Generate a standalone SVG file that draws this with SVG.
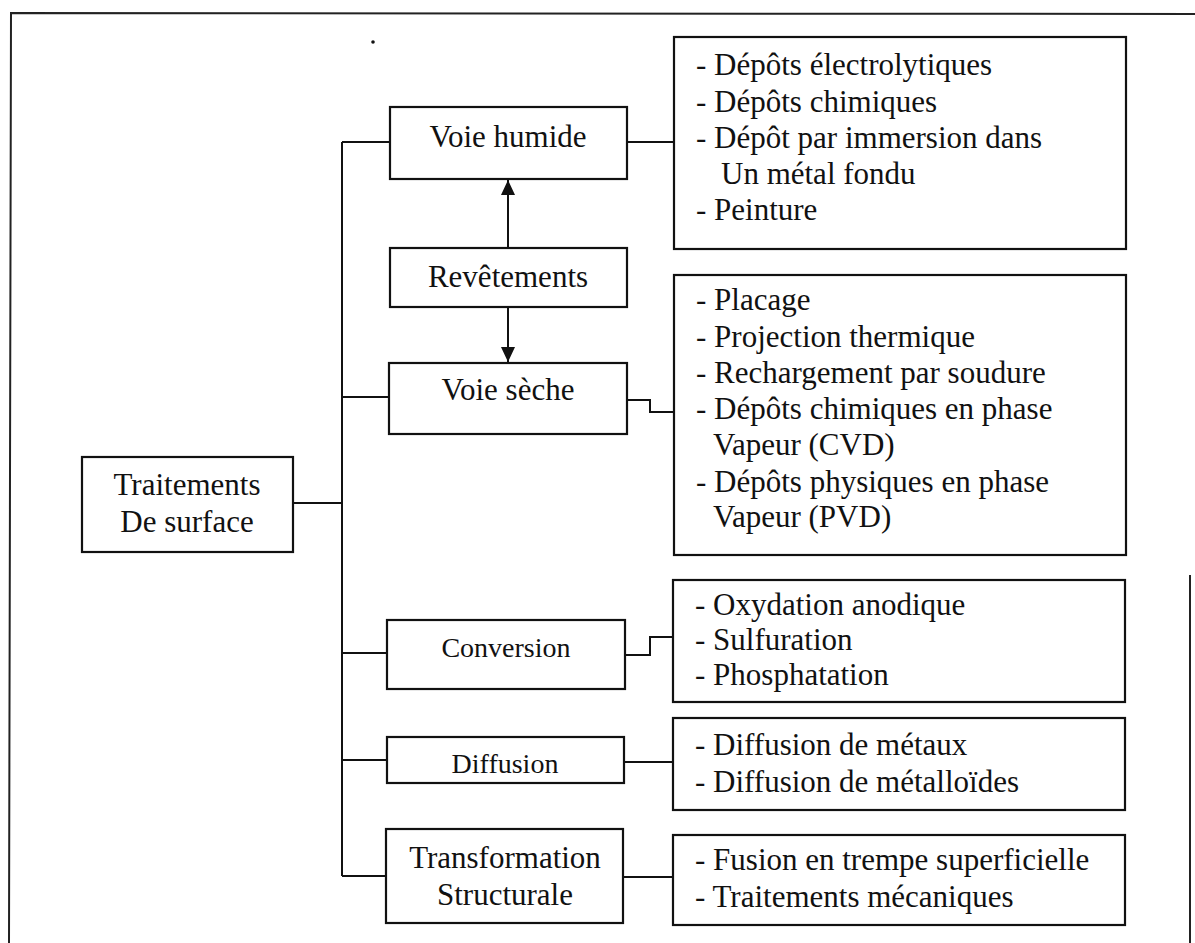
<svg xmlns="http://www.w3.org/2000/svg" width="1195" height="943" viewBox="0 0 1195 943">
<style>
.box{fill:#fff;stroke:#111;stroke-width:2.2}
.ln{fill:none;stroke:#111;stroke-width:2}
.frame{fill:none;stroke:#222;stroke-width:2}
text{font-family:"Liberation Serif","Times New Roman",serif;font-size:31px;fill:#111}
.c{text-anchor:middle}
.s{font-size:28px}
</style>
<defs>
<marker id="ah" markerUnits="userSpaceOnUse" markerWidth="16" markerHeight="16" refX="15" refY="7" orient="auto">
<path d="M0,0 L15,7 L0,14 Z" fill="#111"/>
</marker>
</defs>
<rect width="1195" height="943" fill="#fff"/>
<g id="frame">
<path class="frame" d="M1195,14 L11,13 L9,943"/>
<path class="frame" d="M1190,575 L1190,943"/>
<circle cx="373" cy="42" r="1.8" fill="#111"/>
</g>
<g id="connectors">
<path class="ln" d="M342,142 L342,876"/>
<path class="ln" d="M342,142 L390,142"/>
<path class="ln" d="M342,397 L389,397"/>
<path class="ln" d="M293,503 L342,503"/>
<path class="ln" d="M342,653 L387,653"/>
<path class="ln" d="M342,760 L387,760"/>
<path class="ln" d="M342,876 L386,876"/>
<path class="ln" d="M627,142 L674,142"/>
<path class="ln" d="M627,400 L650,400 L650,412 L674,412"/>
<path class="ln" d="M625,655 L650,655 L650,637 L673,637"/>
<path class="ln" d="M624,762 L673,762"/>
<path class="ln" d="M623,877 L673,877"/>
<path class="ln" d="M508,248 L508,180" marker-end="url(#ah)"/>
<path class="ln" d="M508,307 L508,362" marker-end="url(#ah)"/>
</g>
<g id="traitements">
<rect class="box" x="82" y="457" width="211" height="95"/>
<text class="c" x="187" y="495">Traitements</text>
<text class="c" x="187" y="532">De surface</text>
</g>
<g id="voie-humide">
<rect class="box" x="390" y="107" width="237" height="72"/>
<text class="c" x="508" y="147">Voie humide</text>
</g>
<g id="revetements">
<rect class="box" x="390" y="248" width="237" height="59"/>
<text class="c" x="508" y="287">Revêtements</text>
</g>
<g id="voie-seche">
<rect class="box" x="389" y="363" width="238" height="71"/>
<text class="c" x="508" y="400">Voie sèche</text>
</g>
<g id="conversion">
<rect class="box" x="387" y="620" width="238" height="69"/>
<text class="c s" x="506" y="657">Conversion</text>
</g>
<g id="diffusion">
<rect class="box" x="387" y="737" width="237" height="46"/>
<text class="c s" x="505" y="773">Diffusion</text>
</g>
<g id="transformation">
<rect class="box" x="386" y="829" width="237" height="94"/>
<text class="c" x="505" y="868">Transformation</text>
<text class="c" x="505" y="905">Structurale</text>
</g>
<g id="list-humide">
<rect class="box" x="674" y="37" width="452" height="212"/>
<text x="696" y="75">- Dépôts électrolytiques</text>
<text x="696" y="112">- Dépôts chimiques</text>
<text x="696" y="148">- Dépôt par immersion dans</text>
<text x="721" y="184">Un métal fondu</text>
<text x="696" y="220">- Peinture</text>
</g>
<g id="list-seche">
<rect class="box" x="674" y="275" width="452" height="280"/>
<text x="696" y="310">- Placage</text>
<text x="696" y="347">- Projection thermique</text>
<text x="696" y="383">- Rechargement par soudure</text>
<text x="696" y="419">- Dépôts chimiques en phase</text>
<text x="713" y="455">Vapeur (CVD)</text>
<text x="696" y="492">- Dépôts physiques en phase</text>
<text x="713" y="527">Vapeur (PVD)</text>
</g>
<g id="list-conversion">
<rect class="box" x="673" y="580" width="452" height="122"/>
<text x="695" y="615">- Oxydation anodique</text>
<text x="695" y="650">- Sulfuration</text>
<text x="695" y="685">- Phosphatation</text>
</g>
<g id="list-diffusion">
<rect class="box" x="673" y="718" width="452" height="92"/>
<text x="695" y="755">- Diffusion de métaux</text>
<text x="695" y="792">- Diffusion de métalloïdes</text>
</g>
<g id="list-transformation">
<rect class="box" x="673" y="835" width="452" height="90"/>
<text x="695" y="870">- Fusion en trempe superficielle</text>
<text x="695" y="907">- Traitements mécaniques</text>
</g>
</svg>
